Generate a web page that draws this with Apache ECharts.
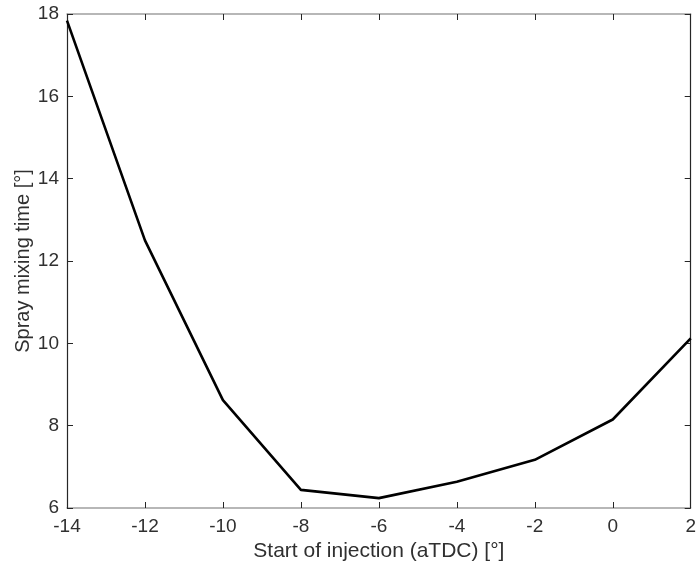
<!DOCTYPE html>
<html><head><meta charset="utf-8">
<script src="https://cdn.jsdelivr.net/npm/echarts@6/dist/echarts.min.js"></script>
<style>html,body{margin:0;padding:0;background:#fff}#c{width:699px;height:572px}</style>
</head><body><div id="c"></div>
<script>
const injectionStart = [-14, -12, -10, -8, -6, -4, -2, 0, 2];
const mixingTime = [17.84, 12.5, 8.62, 6.44, 6.24, 6.64, 7.17, 8.15, 10.12];
const xTicks = [-14, -12, -10, -8, -6, -4, -2, 0, 2];
const yTicks = [6, 8, 10, 12, 14, 16, 18];

const chart = echarts.init(document.getElementById('c'), null, {renderer: 'canvas'});
const font = 'Liberation Sans, Arial, Helvetica, sans-serif';
const axisLineC = '#262626';
const frameC = '#a0a0a0';
const textC = '#303030';
const baseX = {
  type: 'value', min: -14, max: 2, interval: 2,
  splitLine: {show: false},
  axisTick: {inside: true, length: 6, lineStyle: {color: axisLineC}},
};
const baseY = {
  type: 'value', min: 6, max: 18, interval: 2,
  splitLine: {show: false},
  axisTick: {inside: true, length: 6, lineStyle: {color: axisLineC}},
};
chart.setOption({
  animation: false,
  grid: {left: 67, right: 7, top: 14, bottom: 64, containLabel: false},
  xAxis: [
    Object.assign({}, baseX, {
      position: 'bottom',
      name: 'Start of injection (aTDC) [°]',
      nameLocation: 'middle', nameGap: 33,
      nameTextStyle: {fontFamily: font, fontSize: 21, color: textC},
      axisLine: {onZero: false, lineStyle: {color: frameC, width: 1.5}},
      axisLabel: {fontFamily: font, fontSize: 19, color: textC, margin: 9,
        formatter: v => xTicks.includes(v) ? String(v) : ''}
    }),
    Object.assign({}, baseX, {
      position: 'top',
      axisLine: {onZero: false, lineStyle: {color: frameC, width: 1.5}},
      axisLabel: {show: false}
    })
  ],
  yAxis: [
    Object.assign({}, baseY, {
      position: 'left',
      name: 'Spray mixing time [°]',
      nameLocation: 'middle', nameGap: 34, nameRotate: 90,
      nameMoveOverlap: false,
      nameTextStyle: {fontFamily: font, fontSize: 20, color: textC},
      axisLine: {onZero: false, lineStyle: {color: axisLineC, width: 1.2}},
      axisLabel: {fontFamily: font, fontSize: 19, color: textC, margin: 8,
        formatter: v => yTicks.includes(v) ? String(v) : ''}
    }),
    Object.assign({}, baseY, {
      position: 'right',
      axisLine: {onZero: false, lineStyle: {color: axisLineC, width: 1.2}},
      axisLabel: {show: false}
    })
  ],
  series: [{
    type: 'line',
    xAxisIndex: 0, yAxisIndex: 0,
    data: injectionStart.map((x, i) => [x, mixingTime[i]]),
    showSymbol: false, symbol: 'none',
    lineStyle: {color: '#000', width: 2.6},
    clip: false
  }]
});
</script>
</body></html>
